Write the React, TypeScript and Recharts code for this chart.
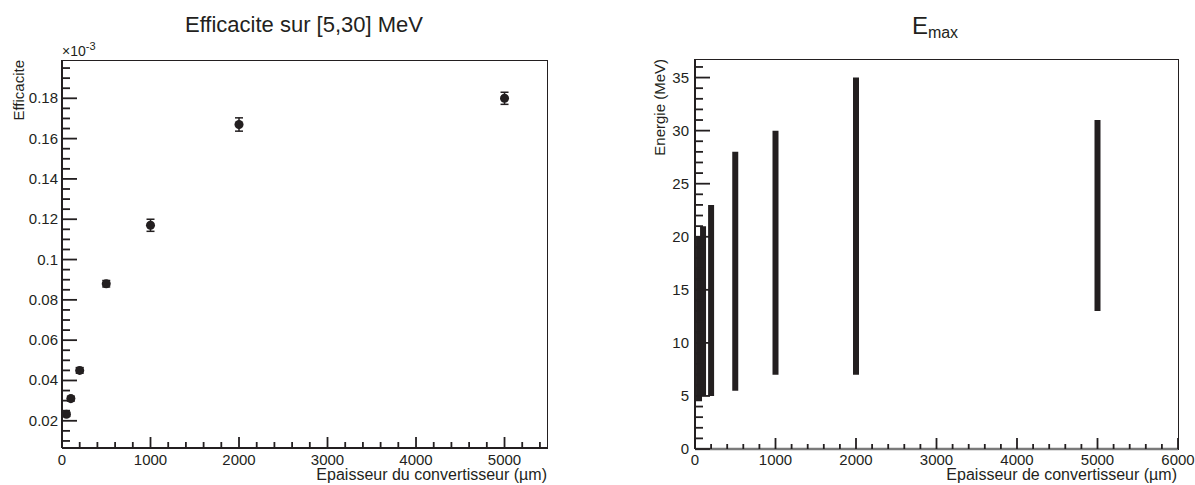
import React from "react";
import { ComposedChart, ErrorBar, Label, Scatter, ScatterChart, XAxis, YAxis, ZAxis } from "recharts";

// ROOT-style canvas: two pads side by side, Helvetica-ish text, inward ticks.

const FONT = '"Liberation Sans", Arial, Helvetica, sans-serif';
const INK = "#231f20";

// converter thickness (µm), shared by both pads
const thickness = [50, 100, 200, 500, 1000, 2000, 5000];

// left pad: efficiency on [5,30] MeV, in units of 1e-3
const efficiency = [0.0232, 0.031, 0.045, 0.088, 0.117, 0.167, 0.18];
const efficiencyErr = [0.001, 0.0012, 0.0014, 0.0016, 0.003, 0.0033, 0.003];

// right pad: Emax band (MeV), lower and upper edge per thickness
const emaxLow = [4.5, 5.0, 5.0, 5.5, 7.0, 7.0, 13.0];
const emaxHigh = [20.0, 21.0, 23.0, 28.0, 30.0, 35.0, 31.0];

// axis ranges + major tick labels
const effXDomain = [0, 5480];
const effYDomain = [0.0065, 0.199];
const effXMajor = [0, 1000, 2000, 3000, 4000, 5000];
const effYMajor = [0.02, 0.04, 0.06, 0.08, 0.1, 0.12, 0.14, 0.16, 0.18];

const emaxXDomain = [0, 6000];
const emaxYDomain = [0, 36.75];
const emaxXMajor = [0, 1000, 2000, 3000, 4000, 5000, 6000];
const emaxYMajor = [0, 5, 10, 15, 20, 25, 30, 35];

const effRows = thickness.map((t, i) => ({
  x: t,
  y: efficiency[i],
  err: efficiencyErr[i],
}));

const emaxRows = thickness.map((t, i) => ({
  x: t,
  mid: (emaxLow[i] + emaxHigh[i]) / 2,
  half: (emaxHigh[i] - emaxLow[i]) / 2,
}));

// every minor step inside [lo, hi]
function withMinors(step: number, lo: number, hi: number) {
  const out: number[] = [];
  for (let k = Math.ceil(lo / step - 1e-9); k * step <= hi + 1e-9; k++) {
    out.push(+(k * step).toFixed(6));
  }
  return out;
}

const fmtNum = (v: number) => String(+v.toFixed(4));

function makeTick(
  orient: "left" | "bottom",
  majors: number[],
  majorLen: number,
  minorLen: number,
  gap: number
) {
  return (props: any) => {
    const { x, y, payload } = props;
    const v = payload.value as number;
    const major = majors.some((m) => Math.abs(m - v) < 1e-7);
    const len = major ? majorLen : minorLen;
    if (orient === "left") {
      return (
        <g>
          <line x1={x} x2={x + len} y1={y} y2={y} stroke={INK} strokeWidth={1.8} />
          {major && (
            <text x={x - gap} y={y + 5} textAnchor="end" fontSize={15} fontFamily={FONT} fill={INK}>
              {fmtNum(v)}
            </text>
          )}
        </g>
      );
    }
    return (
      <g>
        <line x1={x} x2={x} y1={y} y2={y - len} stroke={INK} strokeWidth={1.8} />
        {major && (
          <text x={x} y={y + gap} textAnchor="middle" fontSize={15} fontFamily={FONT} fill={INK}>
            {fmtNum(v)}
          </text>
        )}
      </g>
    );
  };
}

// y title: rotated, right-aligned to the top of the axis
const yTitle = (text: string, cx: number) => (p: any) => {
  const top = p.viewBox.y;
  return (
    <text
      x={cx}
      y={top}
      transform={`rotate(-90, ${cx}, ${top})`}
      dy={5}
      textAnchor="end"
      fontSize={15}
      fontFamily={FONT}
      fill={INK}
    >
      {text}
    </text>
  );
};

function EfficiencyPad() {
  return (
    <ScatterChart width={600} height={485} margin={{ top: 60, right: 53, bottom: 0, left: 0 }}>
      <XAxis
        type="number"
        dataKey="x"
        domain={effXDomain}
        allowDataOverflow
        ticks={withMinors(200, effXDomain[0], effXDomain[1])}
        interval={0}
        height={37}
        tickSize={0}
        tickMargin={0}
        tickLine={false}
        axisLine={{ stroke: INK, strokeWidth: 2 }}
        tick={makeTick("bottom", effXMajor, 11, 6, 17)}
      />
      <YAxis
        type="number"
        dataKey="y"
        domain={effYDomain}
        allowDataOverflow
        ticks={withMinors(0.005, effYDomain[0], effYDomain[1])}
        interval={0}
        width={62}
        tickSize={0}
        tickMargin={0}
        tickLine={false}
        axisLine={{ stroke: INK, strokeWidth: 2 }}
        tick={makeTick("left", effYMajor, 15, 8, 4)}
      >
        <Label content={yTitle("Efficacite", 19)} />
      </YAxis>
      <ZAxis range={[46, 46]} />
      <Scatter data={effRows} fill={INK} isAnimationActive={false}>
        <ErrorBar dataKey="err" direction="y" width={4} stroke={INK} isAnimationActive={false} />
      </Scatter>
    </ScatterChart>
  );
}

function EmaxPad() {
  return (
    <ComposedChart
      width={595}
      height={485}
      data={emaxRows}
      margin={{ top: 59, right: 17, bottom: 0, left: 0 }}
    >
      <XAxis
        type="number"
        dataKey="x"
        domain={emaxXDomain}
        allowDataOverflow
        ticks={withMinors(200, emaxXDomain[0], emaxXDomain[1])}
        interval={0}
        height={36}
        tickSize={0}
        tickMargin={0}
        tickLine={false}
        axisLine={{ stroke: "#7a7a7a", strokeWidth: 2.5 }}
        tick={makeTick("bottom", emaxXMajor, 11, 5, 16)}
      />
      <YAxis
        type="number"
        domain={emaxYDomain}
        allowDataOverflow
        ticks={withMinors(1, emaxYDomain[0], emaxYDomain[1])}
        interval={0}
        width={95}
        tickSize={0}
        tickMargin={0}
        tickLine={false}
        axisLine={{ stroke: INK, strokeWidth: 2 }}
        tick={makeTick("left", emaxYMajor, 15, 8, 6)}
      >
        <Label content={yTitle("Energie (MeV)", 60)} />
      </YAxis>
      <Scatter dataKey="mid" fill="none" isAnimationActive={false}>
        <ErrorBar
          dataKey="half"
          direction="y"
          width={0}
          stroke={INK}
          strokeWidth={6}
          isAnimationActive={false}
        />
      </Scatter>
    </ComposedChart>
  );
}

const textStyle = {
  position: "absolute" as const,
  fontFamily: FONT,
  color: INK,
  lineHeight: 1,
  whiteSpace: "nowrap" as const,
};

const frameStyle = {
  position: "absolute" as const,
  borderTop: `1.5px solid ${INK}`,
  borderRight: `1.5px solid ${INK}`,
  boxSizing: "border-box" as const,
  pointerEvents: "none" as const,
};

export default function App() {
  return (
    <div style={{ position: "absolute", left: 0, top: 0, width: 1195, height: 485, background: "#fff" }}>
      <div style={{ position: "absolute", left: 0, top: 0 }}>
        <EfficiencyPad />
      </div>
      <div style={{ position: "absolute", left: 600, top: 0 }}>
        <EmaxPad />
      </div>
      <div style={{ ...frameStyle, left: 62, top: 60, width: 486, height: 389 }} />
      <div style={{ ...frameStyle, left: 695, top: 59, width: 484, height: 391 }} />
      <div style={{ ...textStyle, left: 0, width: 608, top: 14, fontSize: 22, textAlign: "center" }}>
        Efficacite sur [5,30] MeV
      </div>
      <div style={{ ...textStyle, left: 62, top: 44, fontSize: 14 }}>
        ×10
        <span style={{ fontSize: 11, position: "relative", top: -6 }}>-3</span>
      </div>
      <div style={{ ...textStyle, right: 1195 - 547, top: 467, fontSize: 16 }}>
        Epaisseur du convertisseur (µm)
      </div>
      <div style={{ ...textStyle, left: 735, width: 400, top: 14, fontSize: 24, textAlign: "center" }}>
        E<span style={{ fontSize: 16, position: "relative", top: 4 }}>max</span>
      </div>
      <div style={{ ...textStyle, right: 1195 - 1177, top: 467, fontSize: 16 }}>
        Epaisseur de convertisseur (µm)
      </div>
    </div>
  );
}
